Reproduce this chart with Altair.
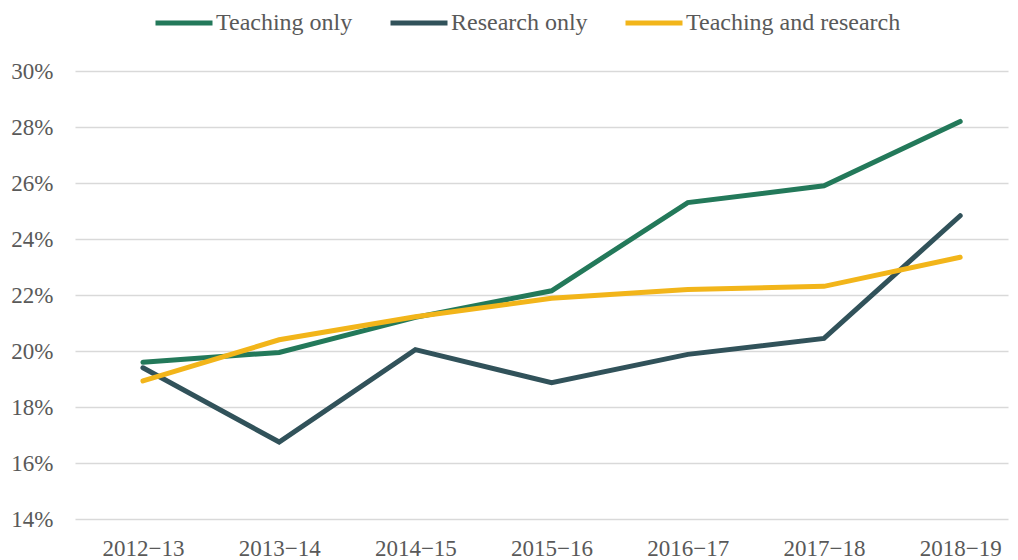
import altair as alt
import pandas as pd

years = ["2012−13", "2013−14", "2014−15", "2015−16", "2016−17", "2017−18", "2018−19"]
series_names = ["Teaching only", "Research only", "Teaching and research"]
teaching_only = [19.6, 19.95, 21.2, 22.15, 25.3, 25.9, 28.2]
research_only = [19.4, 16.75, 20.05, 18.87, 19.88, 20.45, 24.83]
teaching_and_research = [18.93, 20.4, 21.22, 21.88, 22.2, 22.31, 23.35]
colors = ["#23795A", "#31525A", "#F2B51A"]

rows = []
for name, vals in zip(series_names, [teaching_only, research_only, teaching_and_research]):
    for y, v in zip(years, vals):
        rows.append({"year": y, "series": name, "value": v / 100})
df = pd.DataFrame(rows)

FONT = "Liberation Serif"

chart = alt.Chart(df).mark_line(strokeWidth=5, strokeCap="round", strokeJoin="miter").encode(
    x=alt.X("year:N", sort=years,
            scale=alt.Scale(type="point", padding=0.425, align=0.587),
            axis=alt.Axis(title=None, labelAngle=0, domain=False, ticks=False,
                          grid=False, labelPadding=18, labelFontSize=23,
                          labelFont=FONT, labelColor="#595959")),
    y=alt.Y("value:Q", scale=alt.Scale(domain=[0.14, 0.30], nice=False, zero=False),
            axis=alt.Axis(title=None, format=".0%", values=[0.14, 0.16, 0.18, 0.20, 0.22, 0.24, 0.26, 0.28, 0.30],
                          domain=False, ticks=False, labelPadding=22, labelFontSize=23,
                          labelFont=FONT, labelColor="#595959",
                          gridColor="#D9D9D9", gridWidth=1.5)),
    color=alt.Color("series:N", scale=alt.Scale(domain=series_names, range=colors),
                    legend=alt.Legend(title=None, orient="none", direction="horizontal",
                                      legendX=78, legendY=-79,
                                      symbolType="stroke", symbolSize=3249, symbolStrokeWidth=5,
                                      labelFontSize=24, labelFont=FONT, labelColor="#595959",
                                      labelLimit=0, labelOffset=1, columnPadding=27, padding=0)),
).properties(
    width=933, height=448,
    autosize=alt.AutoSizeParams(type="none"),
    padding={"left": 67, "top": 63, "right": 2, "bottom": 40},
).configure_view(stroke=None)

chart.save("out.html", embed_options={"renderer": "svg", "actions": False})
